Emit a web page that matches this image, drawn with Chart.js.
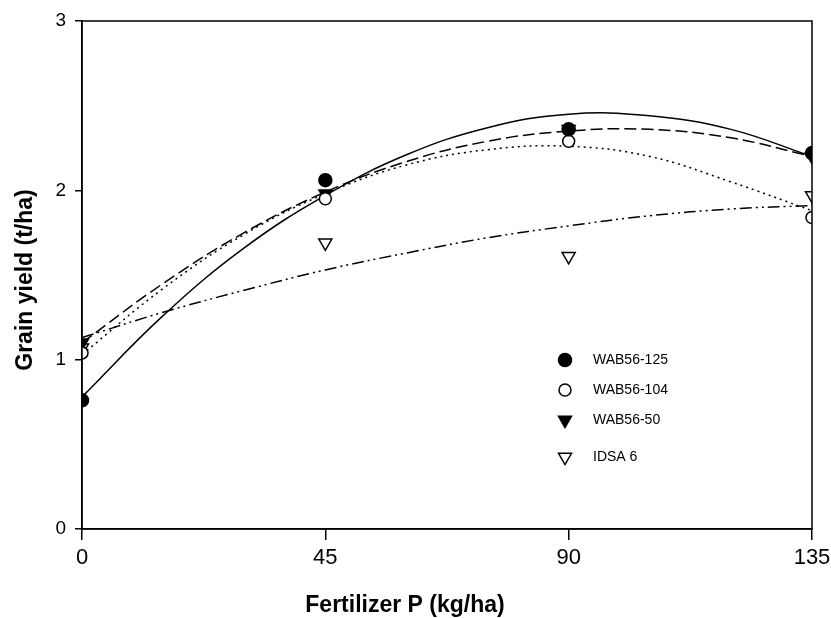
<!DOCTYPE html>
<html>
<head>
<meta charset="utf-8">
<script src="https://cdn.jsdelivr.net/npm/chart.js@4.4.0/dist/chart.umd.min.js"></script>
<style>
  html, body { margin: 0; padding: 0; background: #fff; }
</style>
</head>
<body>
<canvas id="chart" width="831" height="618"></canvas>
<script>
// measured yields (t/ha) at each P dose
const doses = [0, 45, 90, 135];
const wab125 = [0.76, 2.06, 2.36, 2.22];
const wab104 = [1.04, 1.95, 2.29, 1.84];
const wab50 = [1.10, 1.98, 2.36, 2.20];
const idsa6 = [1.07, 1.69, 1.61, 1.97];

// fitted curves, every 15 kg/ha
const fitX = [0, 15, 30, 45, 60, 75, 90, 105, 120, 135];
const fit125 = [0.78, 1.26, 1.66, 1.97, 2.21, 2.37, 2.45, 2.44, 2.36, 2.20];
const fit104 = [1.03, 1.42, 1.74, 1.98, 2.15, 2.24, 2.26, 2.20, 2.05, 1.88];
const fit50 = [1.10, 1.45, 1.75, 1.99, 2.17, 2.29, 2.35, 2.36, 2.31, 2.20];
const fit6 = [1.13, 1.28, 1.41, 1.53, 1.63, 1.72, 1.79, 1.85, 1.89, 1.91];

const xTicks = [0, 45, 90, 135];
const yTicks = [0, 1, 2, 3];
const names = ["WAB56-125", "WAB56-104", "WAB56-50", "IDSA 6"];

const FONT = "'Liberation Sans', Arial, Helvetica, sans-serif";

const pts = (xs, ys) => xs.map((x, i) => ({ x: x, y: ys[i] }));

const markers = [
  { style: "circle", radius: 6.5, rotation: 0, fill: "#000" },
  { style: "circle", radius: 6, rotation: 0, fill: "#fff" },
  { style: "triangle", radius: 7.5, rotation: 180, fill: "#000" },
  { style: "triangle", radius: 7.5, rotation: 180, fill: "#fff" },
];

function markerSet(label, ys, m) {
  return {
    label: label,
    data: pts(doses, ys),
    showLine: false,
    pointStyle: m.style,
    pointRotation: m.rotation,
    pointRadius: m.radius,
    pointBackgroundColor: m.fill,
    pointBorderColor: "#000",
    pointBorderWidth: 1.5,
  };
}

function fitSet(ys, dash) {
  return {
    label: "fit",
    data: pts(fitX, ys),
    showLine: true,
    pointRadius: 0,
    borderColor: "#000",
    borderWidth: 1.5,
    borderDash: dash,
    tension: 0.4,
    fill: false,
  };
}

const frame = {
  id: "frame",
  afterDraw(chart) {
    const { ctx, chartArea: a } = chart;
    ctx.save();
    ctx.strokeStyle = "#000";
    ctx.lineWidth = 1.5;
    ctx.strokeRect(a.left, a.top, a.right - a.left, a.bottom - a.top);

    // legend inside the plot
    const rows = [360, 390, 420, 457];
    ctx.font = "14px " + FONT;
    ctx.textBaseline = "middle";
    ctx.textAlign = "left";
    names.forEach((n, i) => {
      const m = markers[i];
      ctx.fillStyle = m.fill;
      ctx.strokeStyle = "#000";
      ctx.lineWidth = 1.5;
      Chart.helpers.drawPoint(ctx, {
        pointStyle: m.style, radius: m.radius, rotation: m.rotation, borderWidth: 1.5,
      }, 565, rows[i]);
      ctx.fillStyle = "#000";
      ctx.fillText(n, 593, rows[i]);
    });

    // axis titles
    ctx.font = "bold 23px " + FONT;
    ctx.fillStyle = "#000";
    ctx.textAlign = "center";
    ctx.textBaseline = "alphabetic";
    ctx.fillText("Fertilizer P (kg/ha)", 405, 612);
    ctx.translate(32, 280);
    ctx.rotate(-Math.PI / 2);
    ctx.fillText("Grain yield (t/ha)", 0, 0);
    ctx.restore();
  },
};

const config = {
  type: "scatter",
  data: {
    datasets: [
      markerSet(names[0], wab125, markers[0]),
      markerSet(names[1], wab104, markers[1]),
      markerSet(names[2], wab50, markers[2]),
      markerSet(names[3], idsa6, markers[3]),
      fitSet(fit125, []),
      fitSet(fit104, [2, 4]),
      fitSet(fit50, [12, 5]),
      fitSet(fit6, [12, 4, 2, 4, 2, 4]),
    ],
  },
  options: {
    responsive: false,
    animation: false,
    layout: { padding: { left: 0, top: 21, right: 19, bottom: 0 } },
    plugins: {
      legend: { display: false },
      tooltip: { enabled: false },
    },
    scales: {
      x: {
        type: "linear",
        min: 0,
        max: 135,
        afterFit(scale) {
          scale.height = 89;
          scale.paddingLeft = 0;
          scale.paddingRight = 0;
        },
        afterBuildTicks(scale) { scale.ticks = xTicks.map(v => ({ value: v })); },
        grid: { display: true, drawOnChartArea: false, drawTicks: true, tickLength: 11, color: "#000", lineWidth: 1.5 },
        border: { display: true, color: "#000", width: 1.5 },
        ticks: { color: "#000", font: { family: FONT, size: 22 }, padding: 5, maxRotation: 0 },
      },
      y: {
        type: "linear",
        min: 0,
        max: 3,
        afterFit(scale) {
          scale.width = 82;
          scale.paddingTop = 0;
          scale.paddingBottom = 0;
        },
        afterBuildTicks(scale) { scale.ticks = yTicks.map(v => ({ value: v })); },
        grid: { display: true, drawOnChartArea: false, drawTicks: true, tickLength: 7, color: "#000", lineWidth: 1.5 },
        border: { display: true, color: "#000", width: 1.5 },
        ticks: { color: "#000", font: { family: FONT, size: 19 }, padding: 9 },
      },
    },
  },
  plugins: [frame],
};

const chart = new Chart(document.getElementById("chart"), config);
</script>
</body>
</html>
